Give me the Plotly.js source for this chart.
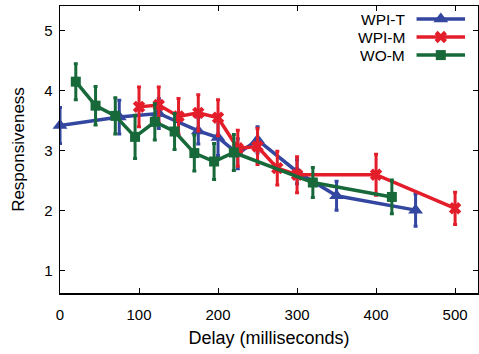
<!DOCTYPE html>
<html>
<head>
<meta charset="utf-8">
<script src="https://cdn.plot.ly/plotly-3.0.1.min.js"></script>
<style>html,body{margin:0;padding:0;background:#fff}#chart{width:479px;height:354px}</style>
</head>
<body>
<div id="chart"></div>
<script>
// Data (Delay in ms, Responsiveness)
const seriesNames = ["WPI-T", "WPI-M", "WO-M"];

const wpiT_x   = [0, 75, 125, 175, 200, 225, 250, 300, 350, 450];
const wpiT_y   = [3.42, 3.56, 3.62, 3.33, 3.22, 2.95, 3.18, 2.65, 2.25, 2.01];
const wpiT_err = [0.30, 0.28, 0.25, 0.22, 0.30, 0.25, 0.22, 0.20, 0.24, 0.27];

const wpiM_x   = [100, 125, 150, 175, 200, 225, 250, 275, 300, 400, 500];
const wpiM_y   = [3.73, 3.76, 3.57, 3.63, 3.55, 3.04, 3.07, 2.71, 2.60, 2.60, 2.04];
const wpiM_err = [0.33, 0.30, 0.30, 0.30, 0.30, 0.30, 0.30, 0.28, 0.30, 0.34, 0.27];

const woM_x   = [20, 45, 70, 95, 120, 145, 170, 195, 220, 320, 420];
const woM_y   = [4.15, 3.75, 3.58, 3.23, 3.48, 3.32, 2.96, 2.82, 2.97, 2.47, 2.23];
const woM_err = [0.30, 0.32, 0.30, 0.36, 0.30, 0.30, 0.30, 0.30, 0.30, 0.25, 0.28];

const xTicks = [0, 100, 200, 300, 400, 500];
const yTicks = [1, 2, 3, 4, 5];

const colors  = ["#3447a0", "#e31e2a", "#17693a"];
const symbols = ["triangle-up", "x", "square"];
const msizes  = [13, 11, 10];

const font = "Liberation Sans, Arial, Helvetica, sans-serif";

function mk(x, y, e, i) {
  return {
    x: x, y: y, type: "scatter", mode: "lines+markers", name: seriesNames[i],
    line: {color: colors[i], width: 3.5},
    marker: {symbol: symbols[i], size: msizes[i], color: colors[i], line: {width: 0}},
    error_y: {type: "data", array: e, visible: true, color: colors[i], thickness: 3, width: 2},
    showlegend: false, cliponaxis: false
  };
}

const traces = [
  mk(wpiT_x, wpiT_y, wpiT_err, 0),
  mk(wpiM_x, wpiM_y, wpiM_err, 1),
  mk(woM_x, woM_y, woM_err, 2)
];

// custom legend (symbol to the right of text), on overlay axes in plot fractions
const legY = [0.955, 0.892, 0.829];
const legX0 = 0.853, legX1 = 0.969, legXm = 0.911, legTextX = 0.828;
const annotations = [];
for (let i = 0; i < 3; i++) {
  traces.push({
    x: [legX0, legX1], y: [legY[i], legY[i]], xaxis: "x2", yaxis: "y2",
    type: "scatter", mode: "lines", line: {color: colors[i], width: 3.5},
    showlegend: false, hoverinfo: "skip"
  });
  traces.push({
    x: [legXm], y: [legY[i]], xaxis: "x2", yaxis: "y2",
    type: "scatter", mode: "markers",
    marker: {symbol: symbols[i], size: msizes[i], color: colors[i], line: {width: 0}},
    showlegend: false, hoverinfo: "skip"
  });
  annotations.push({
    xref: "paper", yref: "paper", x: legTextX, y: legY[i],
    xanchor: "right", yanchor: "middle", showarrow: false,
    height: 16, borderpad: 0,
    text: seriesNames[i], font: {family: font, size: 15.5, color: "#000"}
  });
}

const layout = {
  width: 479, height: 354,
  margin: {l: 60, r: 1, t: 6, b: 61},
  paper_bgcolor: "#fff", plot_bgcolor: "#fff",
  font: {family: font, color: "#000"},
  showlegend: false,
  xaxis: {
    range: [0, 529], tickvals: xTicks, ticktext: xTicks.map(String),
    ticks: "inside", ticklen: 5, tickwidth: 1, tickcolor: "#000",
    ticklabelstandoff: 7,
    showline: true, linecolor: "#000", linewidth: 1.5, mirror: "ticks",
    showgrid: false, zeroline: false,
    tickfont: {family: font, size: 15, color: "#000"},
    title: {text: "Delay (milliseconds)", font: {family: font, size: 18, color: "#000"}, standoff: 10}
  },
  yaxis: {
    range: [0.63, 5.41], tickvals: yTicks, ticktext: yTicks.map(String),
    ticks: "inside", ticklen: 5, tickwidth: 1, tickcolor: "#000",
    ticklabelstandoff: 3,
    showline: true, linecolor: "#000", linewidth: 1.5, mirror: "ticks",
    showgrid: false, zeroline: false,
    tickfont: {family: font, size: 15, color: "#000"},
    title: {text: "Responsiveness", font: {family: font, size: 17, color: "#000"}, standoff: 15}
  },
  xaxis2: {overlaying: "x", range: [0, 1], visible: false, fixedrange: true},
  yaxis2: {overlaying: "y", range: [0, 1], visible: false, fixedrange: true},
  annotations: annotations
};

Plotly.newPlot("chart", traces, layout, {displayModeBar: false, staticPlot: true});
</script>
</body>
</html>
